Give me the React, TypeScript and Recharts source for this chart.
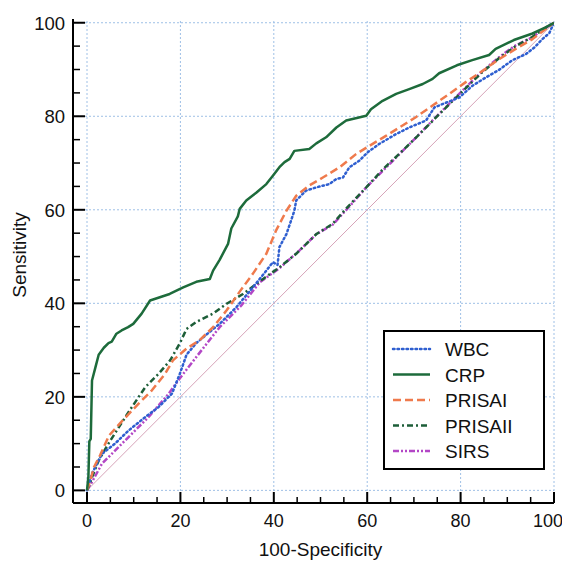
import React from 'react';
import { LineChart, Line, XAxis, YAxis, ReferenceLine, Legend } from 'recharts';

type P = { x: number; y: number };

const wbc: P[] = [
  { x: 0, y: 0 }, { x: 1.07, y: 3.6 }, { x: 3.2, y: 7.8 }, { x: 6, y: 10 }, { x: 8.9, y: 12.8 },
  { x: 12.5, y: 15.7 }, { x: 15.3, y: 17.8 }, { x: 18.2, y: 20.7 }, { x: 19.9, y: 25 }, { x: 21.3, y: 29 },
  { x: 23.4, y: 31.5 }, { x: 27, y: 34.5 }, { x: 28.4, y: 35.6 }, { x: 32, y: 39.2 }, { x: 35.5, y: 43.4 },
  { x: 38.4, y: 47 }, { x: 39.8, y: 48.8 }, { x: 40.8, y: 48.2 }, { x: 41.2, y: 52 }, { x: 42.7, y: 54.8 },
  { x: 43.7, y: 57.7 }, { x: 44.4, y: 59.8 }, { x: 44.8, y: 62 }, { x: 46.9, y: 64.1 }, { x: 49.1, y: 64.8 },
  { x: 51.9, y: 65.5 }, { x: 53.4, y: 66.6 }, { x: 54.8, y: 66.9 }, { x: 56.2, y: 69.1 }, { x: 58.3, y: 70.5 },
  { x: 60.1, y: 72.3 }, { x: 62.6, y: 74.1 }, { x: 66.2, y: 76.2 }, { x: 69, y: 77.6 }, { x: 72.6, y: 79.1 },
  { x: 74.4, y: 81.9 }, { x: 76.1, y: 82.6 }, { x: 79.7, y: 84 }, { x: 82.5, y: 86.5 }, { x: 85.4, y: 88.3 },
  { x: 88.2, y: 89.9 }, { x: 91.1, y: 92 }, { x: 94, y: 93.3 }, { x: 95.9, y: 94.8 }, { x: 97.3, y: 96.3 },
  { x: 99, y: 97.8 }, { x: 100, y: 100 },
];

const crp: P[] = [
  { x: 0, y: 0 }, { x: 0.3, y: 3 }, { x: 0.5, y: 10.5 }, { x: 0.8, y: 11 }, { x: 1.07, y: 23.5 },
  { x: 1.8, y: 26.3 }, { x: 2.5, y: 29 }, { x: 3.6, y: 30.5 }, { x: 4.6, y: 31.5 }, { x: 5.3, y: 31.8 },
  { x: 6.3, y: 33.5 }, { x: 7.4, y: 34.2 }, { x: 8.8, y: 34.9 }, { x: 9.9, y: 35.6 }, { x: 11.7, y: 37.8 },
  { x: 13.5, y: 40.6 }, { x: 15.6, y: 41.3 }, { x: 17.7, y: 42 }, { x: 20.6, y: 43.4 }, { x: 23.4, y: 44.6 },
  { x: 26.3, y: 45.2 }, { x: 27, y: 47 }, { x: 28.4, y: 49.3 }, { x: 30.2, y: 52.7 }, { x: 30.9, y: 56 },
  { x: 32.3, y: 58.6 }, { x: 32.7, y: 60.2 }, { x: 34.1, y: 62 }, { x: 36.3, y: 63.7 }, { x: 38.4, y: 65.5 },
  { x: 39.8, y: 67.3 }, { x: 41.2, y: 69.1 }, { x: 42.3, y: 70.2 }, { x: 43.4, y: 70.9 }, { x: 44.4, y: 72.6 },
  { x: 47.6, y: 73 }, { x: 49.1, y: 74.2 }, { x: 51.2, y: 75.5 }, { x: 53.4, y: 77.6 }, { x: 55.5, y: 79.1 },
  { x: 59.8, y: 80.1 }, { x: 60.8, y: 81.5 }, { x: 63.3, y: 83.3 }, { x: 66.2, y: 84.8 }, { x: 69, y: 85.8 },
  { x: 71.9, y: 86.9 }, { x: 74, y: 88 }, { x: 75.4, y: 89.2 }, { x: 79.2, y: 90.9 }, { x: 82.5, y: 92 },
  { x: 86.1, y: 93.1 }, { x: 87.5, y: 94.4 }, { x: 91.4, y: 96.3 }, { x: 95.4, y: 97.7 }, { x: 98.2, y: 99 },
  { x: 100, y: 100 },
];

const prisa1: P[] = [
  { x: 0, y: 0 }, { x: 0.7, y: 2.1 }, { x: 1.5, y: 5 }, { x: 2.8, y: 7.5 }, { x: 4.7, y: 11.7 },
  { x: 7.3, y: 14.6 }, { x: 11, y: 18.5 }, { x: 13.9, y: 21.4 }, { x: 16.7, y: 24.9 }, { x: 18.4, y: 27.8 },
  { x: 21.3, y: 30.3 }, { x: 24.1, y: 32.1 }, { x: 27, y: 34.9 }, { x: 29.9, y: 38.5 }, { x: 32.7, y: 42.5 },
  { x: 35.5, y: 46.3 }, { x: 38.4, y: 50.6 }, { x: 40.5, y: 55.6 }, { x: 42.7, y: 59.8 }, { x: 44.8, y: 63 },
  { x: 47.6, y: 65.2 }, { x: 50.5, y: 66.9 }, { x: 54.1, y: 69.1 }, { x: 57.6, y: 71.9 }, { x: 60.5, y: 73.7 },
  { x: 64, y: 75.8 }, { x: 66.9, y: 77.6 }, { x: 70.4, y: 79.8 }, { x: 74, y: 82.3 }, { x: 77.6, y: 84.8 },
  { x: 81.1, y: 87.3 }, { x: 84.7, y: 89.7 }, { x: 88.2, y: 92.2 }, { x: 91.8, y: 94.4 }, { x: 95.4, y: 96.5 },
  { x: 98, y: 98.5 }, { x: 100, y: 100 },
];

const prisa2: P[] = [
  { x: 0, y: 0 }, { x: 0.5, y: 1.2 }, { x: 1.07, y: 2.8 }, { x: 2.5, y: 6.4 }, { x: 4.6, y: 10 },
  { x: 6.8, y: 13.5 }, { x: 9.6, y: 17.8 }, { x: 12.5, y: 22.1 }, { x: 15.3, y: 24.9 }, { x: 17.8, y: 27.8 },
  { x: 19.9, y: 31.5 }, { x: 21.3, y: 34.5 }, { x: 23.4, y: 36 }, { x: 27, y: 37.8 }, { x: 29.9, y: 39.9 },
  { x: 33.4, y: 42 }, { x: 37.7, y: 45.2 }, { x: 41.2, y: 47.7 }, { x: 44.8, y: 50.6 }, { x: 49.1, y: 54.8 },
  { x: 52.6, y: 57 }, { x: 56, y: 60.8 }, { x: 59.8, y: 64.8 }, { x: 63.5, y: 68.8 }, { x: 66.9, y: 72 },
  { x: 70.5, y: 75.5 }, { x: 74, y: 79 }, { x: 77.5, y: 82.5 }, { x: 81.1, y: 86 }, { x: 84.5, y: 89.3 },
  { x: 88.2, y: 92.4 }, { x: 91.5, y: 94.8 }, { x: 95.4, y: 97 }, { x: 98, y: 98.8 }, { x: 100, y: 100 },
];

const sirs: P[] = [
  { x: 0, y: 0 }, { x: 1.07, y: 1.8 }, { x: 3.2, y: 5.7 }, { x: 6, y: 8.5 }, { x: 9.6, y: 12.1 },
  { x: 13.2, y: 15.7 }, { x: 17.5, y: 20.7 }, { x: 19.9, y: 24 }, { x: 23, y: 28 }, { x: 28.4, y: 34.9 },
  { x: 33, y: 39.5 }, { x: 37, y: 44.5 }, { x: 41.2, y: 47.5 }, { x: 45.5, y: 51.3 }, { x: 49.1, y: 54.8 },
  { x: 52.6, y: 56.8 }, { x: 56, y: 60.5 }, { x: 59.8, y: 64.8 }, { x: 63.5, y: 68.5 }, { x: 66.9, y: 71.9 },
  { x: 70.5, y: 75.5 }, { x: 74, y: 79.1 }, { x: 77.5, y: 82.6 }, { x: 81.1, y: 86.2 }, { x: 84.5, y: 89.5 },
  { x: 88.2, y: 92.6 }, { x: 91.5, y: 95 }, { x: 95.4, y: 96.9 }, { x: 98, y: 98.8 }, { x: 100, y: 100 },
];

const diagonal: P[] = [{ x: 0, y: 0 }, { x: 100, y: 100 }];

const tickValues = [0, 5, 10, 15, 20, 25, 30, 35, 40, 45, 50, 55, 60, 65, 70, 75, 80, 85, 90, 95, 100];
const gridValues = [0, 20, 40, 60, 80, 100];
const xTitle = '100-Specificity';
const yTitle = 'Sensitivity';

const FONT = '"Liberation Sans", Arial, Helvetica, sans-serif';

const seriesStyles = [
  { name: 'WBC', color: '#2f5fd0', dash: '1.5 3', cap: 'round' },
  { name: 'CRP', color: '#1d6b3b', dash: undefined, cap: 'butt' },
  { name: 'PRISAI', color: '#ef7a4c', dash: '8 4', cap: 'butt' },
  { name: 'PRISAII', color: '#1d5e38', dash: '6 3 2 3', cap: 'butt' },
  { name: 'SIRS', color: '#b347c6', dash: '6 2 2 2 2 2', cap: 'butt' },
];

const XTick = (props: any) => {
  const { x, y, payload } = props;
  const v = payload.value;
  const major = v % 20 === 0;
  const lx = v === 100 ? x - 6 : x;
  return (
    <g>
      <line x1={x} y1={y} x2={x} y2={y - (major ? 11 : 6)} stroke="#000" strokeWidth={major ? 2 : 1.5} />
      {major && (
        <text x={lx} y={y + 24} textAnchor="middle" fontSize={18} fontFamily={FONT} fill="#111">
          {v}
        </text>
      )}
    </g>
  );
};

const YTick = (props: any) => {
  const { x, y, payload } = props;
  const v = payload.value;
  const major = v % 20 === 0;
  return (
    <g>
      <line x1={x} y1={y} x2={x + (major ? 12 : 7)} y2={y} stroke="#000" strokeWidth={major ? 2 : 1.5} />
      {major && (
        <text x={x - 8} y={y + 7} textAnchor="end" fontSize={18.5} fontFamily={FONT} fill="#111">
          {v}
        </text>
      )}
    </g>
  );
};

const LegendBox = () => {
  const rowY = [19, 44.5, 70, 95.5, 121];
  return (
    <svg width={162} height={140} style={{ display: 'block' }}>
      <rect x={1} y={1} width={160} height={138} fill="#fff" stroke="#000" strokeWidth={2} />
      {seriesStyles.map((s, i) => (
        <g key={s.name}>
          <line x1={10} x2={47} y1={rowY[i]} y2={rowY[i]} stroke={s.color} strokeWidth={2.5}
            strokeDasharray={s.dash} strokeLinecap={s.cap as any} />
          <text x={62} y={rowY[i] + 7} fontSize={19} fontFamily={FONT} fill="#111">{s.name}</text>
        </g>
      ))}
    </svg>
  );
};

const XTitle = (props: any) => {
  const vb = props.viewBox || {};
  const cx = vb.x + (vb.width * 53) / 103;
  return (
    <text x={cx} y={548} textAnchor="middle" fontSize={19} fontFamily={FONT} fill="#111">{xTitle}</text>
  );
};

const YTitle = () => (
  <text x={18} y={247} transform="rotate(-90, 18, 247)" textAnchor="middle" fontSize={19} fontFamily={FONT} fill="#111">
    {yTitle}
  </text>
);

const seriesData: Record<string, P[]> = { WBC: wbc, CRP: crp, PRISAI: prisa1, PRISAII: prisa2, SIRS: sirs };
const drawOrder = ['SIRS', 'PRISAII', 'WBC', 'PRISAI', 'CRP'];

export default function App() {
  return (
    <div style={{ width: 562, height: 555, fontFamily: FONT }}>
      <style>{'html, body { overflow: hidden; }'}</style>
      <LineChart width={562} height={555} margin={{ top: 11, right: 16, left: 5, bottom: 10 }}>
        <XAxis dataKey="x" type="number" domain={[-3, 100]} allowDataOverflow ticks={tickValues} interval={0}
          tickSize={0} tickMargin={0} tick={<XTick />} height={50}
          axisLine={{ stroke: '#000', strokeWidth: 2 }} label={<XTitle />} />
        <YAxis dataKey="y" type="number" domain={[-2.7, 100.8]} allowDataOverflow ticks={tickValues} interval={0}
          tickSize={0} tickMargin={0} tick={<YTick />} width={60}
          axisLine={{ stroke: '#000', strokeWidth: 2 }} label={<YTitle />} />
        {gridValues.map((v) => (
          <ReferenceLine key={'gx' + v} x={v} stroke="#9fc0e6" strokeDasharray="2 2" strokeWidth={1} />
        ))}
        {gridValues.map((v) => (
          <ReferenceLine key={'gy' + v} y={v} stroke="#9fc0e6" strokeDasharray="2 2" strokeWidth={1} />
        ))}
        <Line data={diagonal} dataKey="y" stroke="#d6a3b8" strokeWidth={1} dot={false} activeDot={false}
          isAnimationActive={false} legendType="none" />
        {drawOrder.map((name) => {
          const s = seriesStyles.find((q) => q.name === name)!;
          return (
            <Line key={name} name={name} data={seriesData[name]} dataKey="y" type="linear" stroke={s.color}
              strokeWidth={2.5} strokeDasharray={s.dash} strokeLinecap={s.cap as any} strokeLinejoin="round"
              dot={false} activeDot={false} isAnimationActive={false} />
          );
        })}
        <Legend layout="horizontal" verticalAlign="middle" align="center" content={<LegendBox />}
          wrapperStyle={{ position: 'absolute', left: 375, top: 322, width: 162, height: 140 }} />
      </LineChart>
    </div>
  );
}
